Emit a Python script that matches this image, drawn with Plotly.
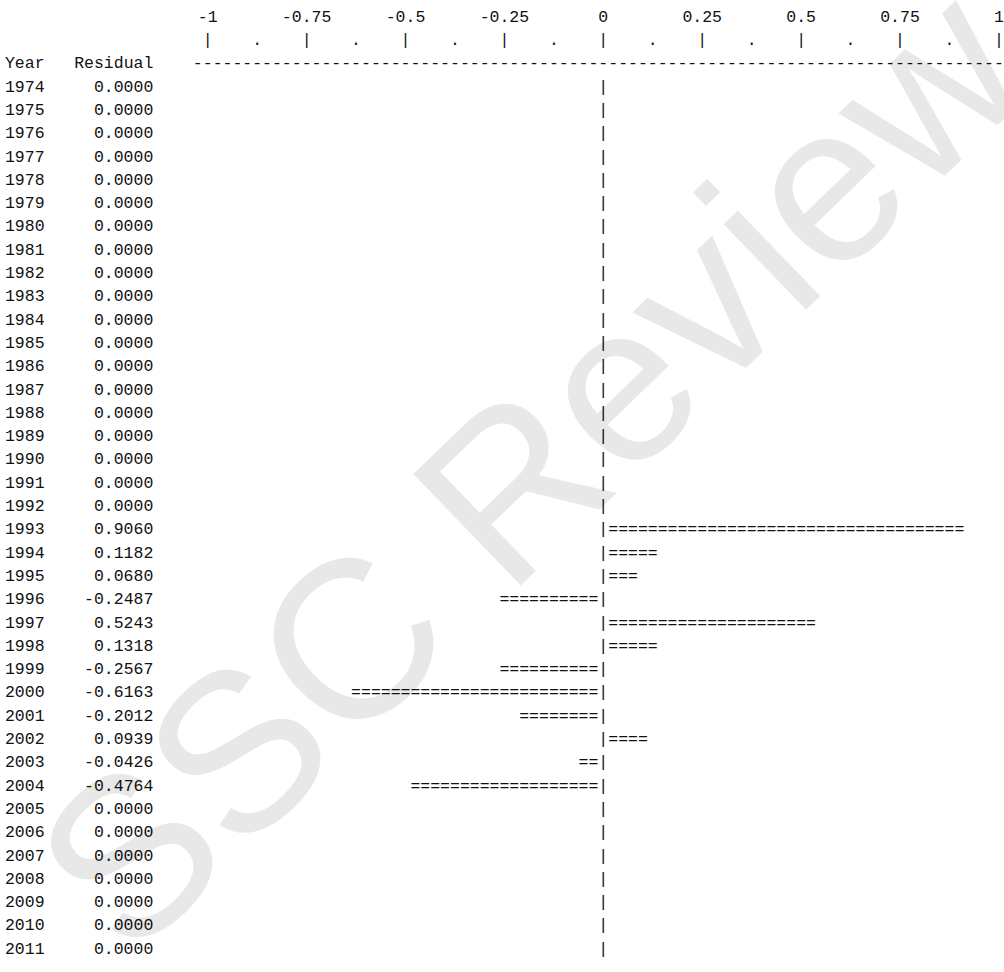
import plotly.graph_objects as go

# ---------------- data ----------------
years = [1974, 1975, 1976, 1977, 1978, 1979, 1980, 1981, 1982, 1983,
         1984, 1985, 1986, 1987, 1988, 1989, 1990, 1991, 1992, 1993,
         1994, 1995, 1996, 1997, 1998, 1999, 2000, 2001, 2002, 2003,
         2004, 2005, 2006, 2007, 2008, 2009, 2010, 2011]
residuals = [0.0000, 0.0000, 0.0000, 0.0000, 0.0000, 0.0000, 0.0000, 0.0000,
             0.0000, 0.0000, 0.0000, 0.0000, 0.0000, 0.0000, 0.0000, 0.0000,
             0.0000, 0.0000, 0.0000, 0.9060, 0.1182, 0.0680, -0.2487, 0.5243,
             0.1318, -0.2567, -0.6163, -0.2012, 0.0939, -0.0426, -0.4764,
             0.0000, 0.0000, 0.0000, 0.0000, 0.0000, 0.0000, 0.0000]
tick_values = [-1, -0.75, -0.5, -0.25, 0, 0.25, 0.5, 0.75, 1]
tick_labels = ["-1", "-0.75", "-0.5", "-0.25", "0", "0.25", "0.5", "0.75", "1"]
col_headers = ["Year", "Residual"]

# ---------------- layout constants ----------------
W, H = 1004, 972
STEP = 0.025            # one character cell of the text plot, in data units
PX_PER_UNIT = 395.6
ZERO_PX = 603.3
LINE_H = 23.3
FIRST_LINE_PX = 17.6
ROW_LABELS = years[0] - 3   # line holding the ruler labels
ROW_TICKS = years[0] - 2    # line holding the ruler marks
ROW_HEAD = years[0] - 1     # header line
FONT = "Liberation Mono"
FS = 16.5
INK = "#111111"

x_range = [-ZERO_PX / PX_PER_UNIT, (W - ZERO_PX) / PX_PER_UNIT]
y_top = ROW_LABELS - FIRST_LINE_PX / LINE_H
y_bot = ROW_LABELS + (H - FIRST_LINE_PX) / LINE_H


def col_x(col):
    """x (data units) of the centre of character column `col` (zero line = col 60)."""
    return (col - 60) * STEP


def text_trace(xs, ys, texts):
    return go.Scatter(x=xs, y=ys, text=texts, mode="text",
                      textposition="middle center",
                      textfont=dict(family=FONT, size=FS, color=INK),
                      hoverinfo="skip", showlegend=False, cliponaxis=False)


fig = go.Figure()

# left table: Year column (cols 0-3) and Residual column right-aligned at col 14
yr_txt = [col_headers[0]] + [str(y) for y in years]
yr_y = [ROW_HEAD] + years
fig.add_trace(text_trace([col_x((len(t) - 1) / 2) for t in yr_txt], yr_y, yr_txt))

res_txt = [col_headers[1]] + ["%.4f" % r for r in residuals]
fig.add_trace(text_trace([col_x(14 - (len(t) - 1) / 2) for t in res_txt], yr_y, res_txt))

# ruler: labels, '|' at ticks, '.' midway
fig.add_trace(text_trace(tick_values, [ROW_LABELS] * len(tick_values), tick_labels))
fig.add_trace(text_trace(tick_values, [ROW_TICKS] * len(tick_values), ["|"] * len(tick_values)))
mids = [(a + b) / 2 for a, b in zip(tick_values[:-1], tick_values[1:])]
fig.add_trace(text_trace(mids, [ROW_TICKS] * len(mids), ["."] * len(mids)))

# header rule of dashes (cols 19..100)
dash_cols = list(range(19, 101))
fig.add_trace(text_trace([col_x(c) for c in dash_cols], [ROW_HEAD] * len(dash_cols),
                         ["-"] * len(dash_cols)))

# zero line '|' on every year row
fig.add_trace(text_trace([0] * len(years), years, ["|"] * len(years)))

# bars of '=' characters: one character per STEP of the residual
bx, by = [], []
for y, r in zip(years, residuals):
    n = int(round(abs(r) / STEP))
    sgn = 1 if r > 0 else -1
    for k in range(1, n + 1):
        bx.append(sgn * k * STEP)
        by.append(y)
fig.add_trace(text_trace(bx, by, ["="] * len(bx)))

# watermark
fig.add_annotation(text="SSC Review Draft", xref="paper", yref="paper",
                   x=0.725, y=0.715, xanchor="center", yanchor="middle",
                   showarrow=False, textangle=-44,
                   font=dict(family="Liberation Sans", size=225,
                             color="rgba(0,0,0,0.09)"))

fig.update_layout(
    width=W, height=H, margin=dict(l=0, r=0, t=0, b=0),
    paper_bgcolor="white", plot_bgcolor="white",
    showlegend=False, hovermode=False,
    xaxis=dict(range=x_range, visible=False, fixedrange=True),
    yaxis=dict(range=[y_bot, y_top], visible=False, fixedrange=True),
)

fig.write_html("out.html", config={"displayModeBar": False},
               post_script="document.body.style.margin='0';")
